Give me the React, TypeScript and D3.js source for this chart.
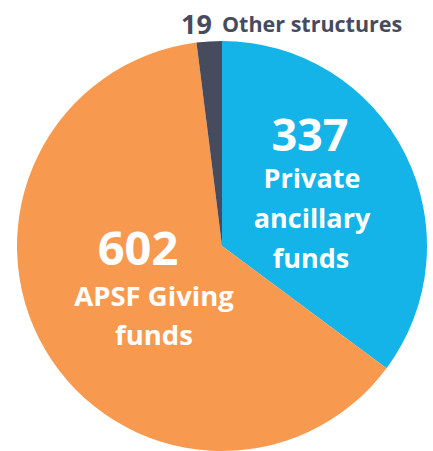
import React from "react";
import * as d3 from "d3";

const categories = ["Private ancillary funds", "APSF Giving funds", "Other structures"];
const values = [337, 602, 19];
const colors = ["#14B4E8", "#F79A50", "#474B5E"];

export default function App() {
  const W = 433, H = 451;
  const cx = 222, cy = 246, r = 205;
  const pie = d3.pie<number>().sort(null).value((d) => d);
  const arcs = pie(values);
  const arc = d3.arc<d3.PieArcDatum<number>>().innerRadius(0).outerRadius(r);
  const font = "'Open Sans', sans-serif";
  return (
    <svg width={W} height={H} style={{ position: "absolute", left: 0, top: 0 }}>
      <g transform={`translate(${cx},${cy})`}>
        {arcs.map((a, i) => (
          <path key={categories[i]} d={arc(a) || ""} fill={colors[i]} />
        ))}
      </g>
      <g fontFamily={font} fontWeight={700} fill="#fff" textAnchor="middle">
        <text x={310} y={151} fontSize={45}>{values[0]}</text>
        <text x={312} y={188} fontSize={27}>Private</text>
        <text x={312} y={228} fontSize={27}>ancillary</text>
        <text x={311} y={268} fontSize={27}>funds</text>
        <text x={138} y={265} fontSize={47}>{values[1]}</text>
        <text x={154} y={306} fontSize={27.5}>APSF Giving</text>
        <text x={154} y={345} fontSize={27.5}>funds</text>
      </g>
      <g fontFamily={font} fontWeight={700} fill="#474B5E">
        <text x={181} y={34} fontSize={27}>{values[2]}</text>
        <text x={222} y={32} fontSize={21.5}>Other structures</text>
      </g>
    </svg>
  );
}
